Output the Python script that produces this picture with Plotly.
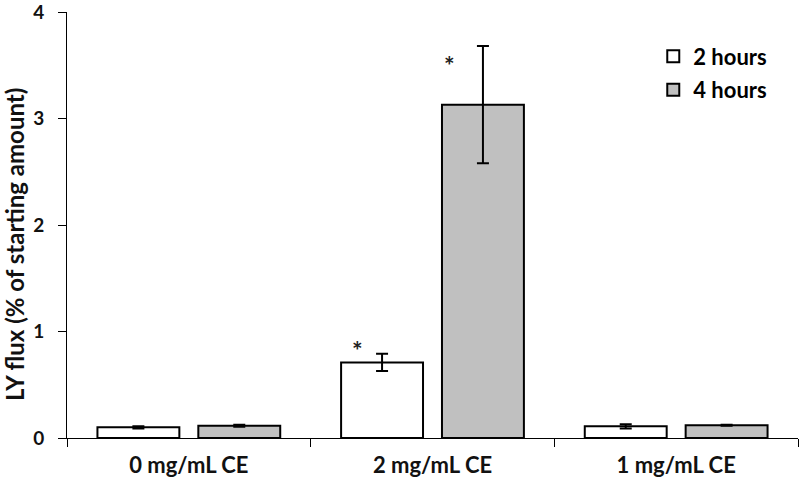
import plotly.graph_objects as go

categories = ["0 mg/mL CE", "2 mg/mL CE", "1 mg/mL CE"]
series_names = ["2 hours", "4 hours"]
values_2h = [0.10, 0.71, 0.11]
errors_2h = [0.01, 0.08, 0.02]
values_4h = [0.115, 3.13, 0.12]
errors_4h = [0.01, 0.55, 0.005]
y_ticks = [0, 1, 2, 3, 4]
star_cats = ["2 mg/mL CE", "2 mg/mL CE"]
star_y = [0.87, 3.55]
y_title = "LY flux (% of starting amount)"

FONT = "Lato"

fig = go.Figure()
fig.add_trace(go.Bar(
    name=series_names[0], x=categories, y=values_2h,
    marker=dict(color="white", line=dict(color="black", width=2)),
    error_y=dict(type="data", array=errors_2h, color="black", thickness=2, width=6),
    legendgroup="a",
))
fig.add_trace(go.Bar(
    name=series_names[1], x=categories, y=values_4h,
    marker=dict(color="#c0c0c0", line=dict(color="black", width=2)),
    error_y=dict(type="data", array=errors_4h, color="black", thickness=2, width=6),
    legendgroup="b",
))

for i, (c, yv) in enumerate(zip(star_cats, star_y)):
    fig.add_annotation(x=c, y=yv, text="<b>*</b>", showarrow=False,
                       xshift=-75 + i * 92, yshift=-5,
                       font=dict(size=25, color="#222", family=FONT))

fig.add_annotation(xref="paper", yref="paper", x=0, y=0.5, xshift=-53, yshift=-20,
                   text=y_title, textangle=-90, showarrow=False, borderpad=0,
                   xanchor="center", yanchor="middle",
                   font=dict(size=24, family=FONT, color="#111", weight="bold"))

fig.update_layout(
    width=800, height=482,
    margin=dict(l=67, r=2, t=12, b=44, autoexpand=False),
    paper_bgcolor="white", plot_bgcolor="white",
    barmode="group", bargap=0.172, bargroupgap=0.188,
    font=dict(family=FONT, size=20, color="black"),
    legend=dict(x=0.802, y=0.945, xanchor="left", yanchor="top",
                font=dict(size=22, family=FONT, color="black", weight="bold"),
                traceorder="grouped", tracegroupgap=2, itemwidth=30,
                bgcolor="rgba(0,0,0,0)"),
    xaxis=dict(showline=True, linecolor="black", linewidth=1, automargin=False,
               ticks="outside", tickson="boundaries", ticklen=8, tickcolor="black",
               ticklabelstandoff=8,
               tickfont=dict(size=22, family=FONT, color="#111", weight="bold")),
    yaxis=dict(range=[0, 4], tickvals=y_ticks, showline=True, linecolor="black", linewidth=1,
               automargin=False, ticklabeloverflow="allow", ticklabelstandoff=10,
               ticks="outside", ticklen=8, tickcolor="black", showgrid=False, zeroline=False,
               tickfont=dict(size=19, family=FONT, color="#111", weight="bold")),
)

fig.write_html("out.html", config={"displayModeBar": False},
               post_script="document.body.style.margin='0';")
